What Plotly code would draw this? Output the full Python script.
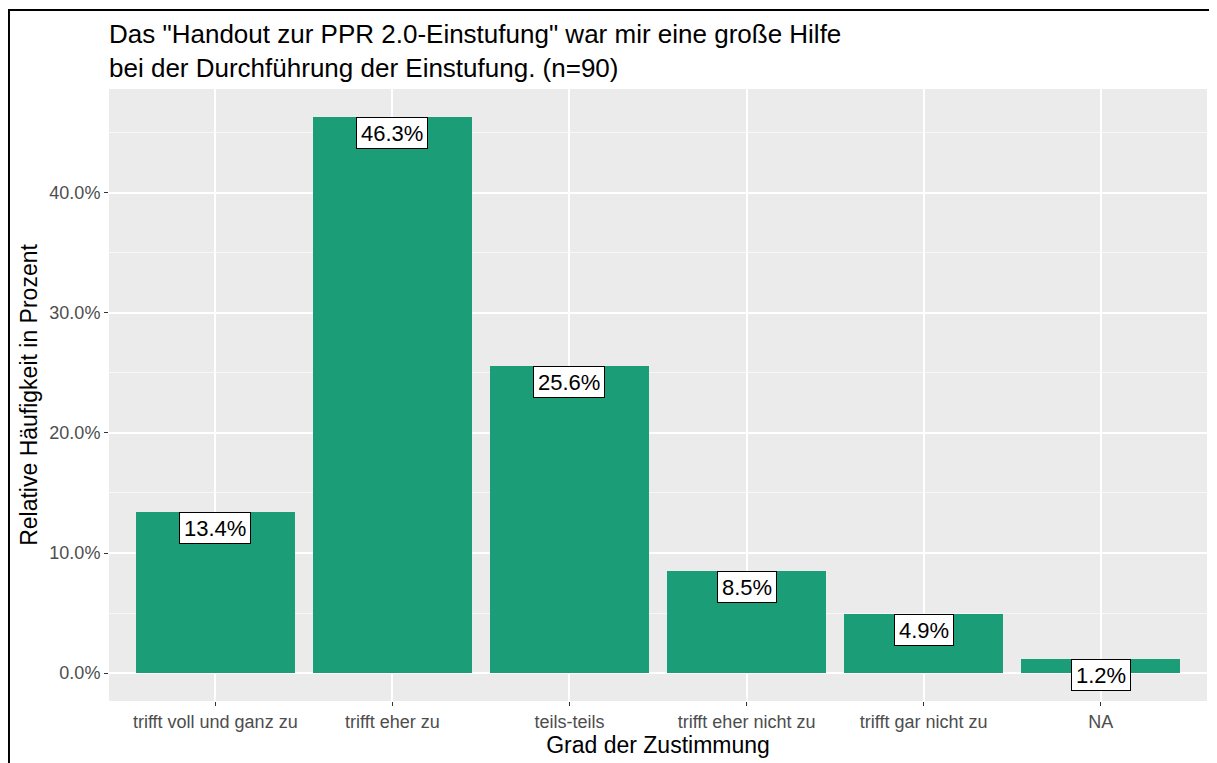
import plotly.graph_objects as go

# ---------- Data ----------
categories = [
    'trifft voll und ganz zu', 'trifft eher zu', 'teils-teils',
    'trifft eher nicht zu', 'trifft gar nicht zu', 'NA'
]
shares = [0.134, 0.463, 0.256, 0.085, 0.049, 0.012]
label_texts = ['13.4%', '46.3%', '25.6%', '8.5%', '4.9%', '1.2%']

title_text = ('Das "Handout zur PPR 2.0-Einstufung" war mir eine große Hilfe<br>'
              'bei der Durchführung der Einstufung. (n=90)')

FONT = 'Liberation Sans, Arial, sans-serif'

# page body has an 8px margin, so the figure is a bit smaller than the window
W, H = 1209, 755

fig = go.Figure(go.Bar(
    x=categories,
    y=shares,
    marker=dict(color='#1B9E77', line=dict(width=0)),
    width=0.9,
    hoverinfo='skip'
))

# labels like geom_label (vjust=1)
for cat, val, txt in zip(categories, shares, label_texts):
    fig.add_annotation(
        x=cat, y=val, text=txt, showarrow=False,
        yanchor='top', xanchor='center',
        font=dict(family=FONT, size=22, color='black'),
        height=22,
        bgcolor='white', bordercolor='black', borderwidth=1, borderpad=4
    )

# black frame of the screenshot
fig.add_shape(type='rect', xref='paper', yref='paper',
              x0=-0.0911, x1=1.05, y0=-0.3, y1=1.129,
              line=dict(color='black', width=2), layer='above')

ymax = max(shares)
fig.update_layout(
    width=W, height=H,
    margin=dict(l=101, r=10, t=81, b=62),
    paper_bgcolor='white',
    plot_bgcolor='#EBEBEB',
    showlegend=False,
    bargap=0,
    font=dict(family=FONT, color='black'),
    title=dict(text=title_text, x=101 / W, xanchor='left', xref='container',
               y=1 - 35 / H, yanchor='top', yref='container',
               font=dict(family=FONT, size=26, color='black')),
    xaxis=dict(
        range=[-0.6, 5.6], showgrid=True, gridcolor='white', gridwidth=1.5,
        ticks='outside', ticklen=4, tickcolor='#333333', tickwidth=1,
        tickfont=dict(family=FONT, size=18, color='#4D4D4D'),
        title=dict(text='Grad der Zustimmung', standoff=2,
                   font=dict(family=FONT, size=23, color='black')),
        zeroline=False, showline=False, fixedrange=True
    ),
    yaxis=dict(
        range=[-0.05 * ymax, 1.05 * ymax], tickformat='.1%',
        tickvals=[0, 0.1, 0.2, 0.3, 0.4],
        showgrid=True, gridcolor='white', gridwidth=1.5,
        minor=dict(tickvals=[0.05, 0.15, 0.25, 0.35, 0.45], showgrid=True,
                   gridcolor='#F7F7F7', gridwidth=0.8, ticks=''),
        ticks='outside', ticklen=4, tickcolor='#333333', tickwidth=1,
        tickfont=dict(family=FONT, size=18, color='#4D4D4D'),
        title=dict(text='Relative Häufigkeit in Prozent', standoff=5,
                   font=dict(family=FONT, size=23, color='black')),
        zeroline=False, showline=False, fixedrange=True
    )
)

fig.write_html('out.html')
